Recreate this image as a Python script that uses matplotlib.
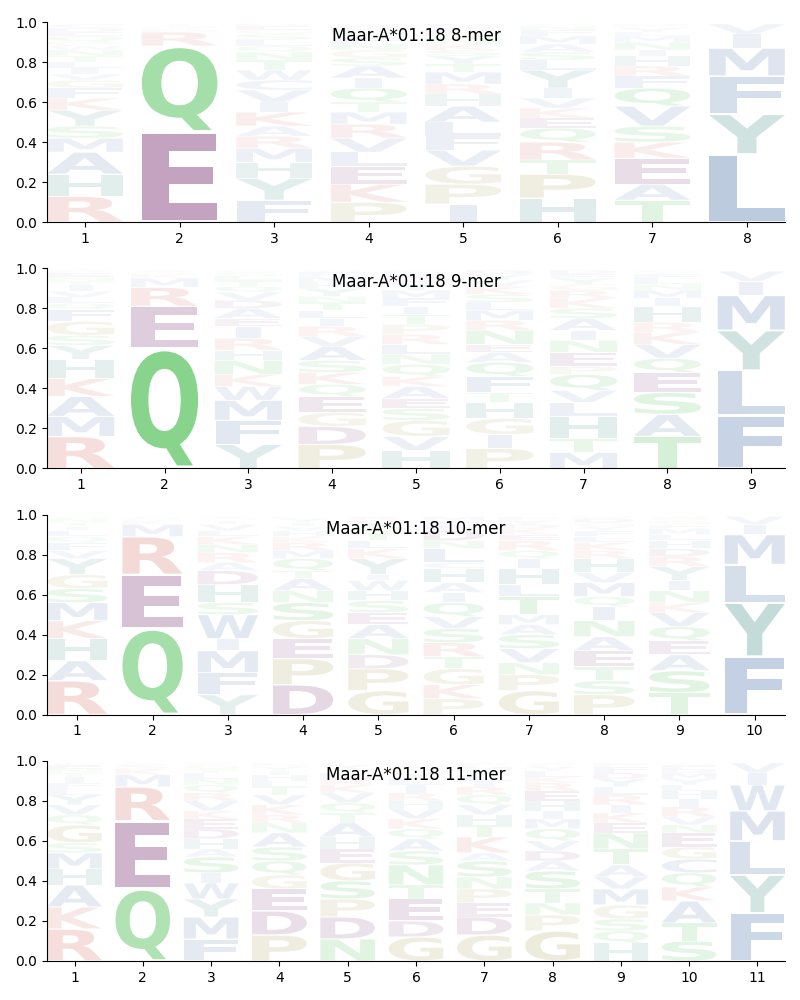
import numpy as np
import matplotlib
matplotlib.use("Agg")
import matplotlib.pyplot as plt
from matplotlib.textpath import TextPath
from matplotlib.patches import PathPatch
from matplotlib.font_manager import FontProperties
import matplotlib.transforms as mtransforms

allele = "Maar-A*01:18"

# letters of each column, bottom -> top, and their heights
letters_8 = ["RHAMSYKFGVILTNWPQEDC", "EQRMKST", "FYHMRAKIVCWTNQLSGED",
             "PKELVRMTQIASGNFYHDW", "IPGVFLAHRMTYSKNQEWD", "HPTRQEKVIYLSAMFNG",
             "TAEKSVQFRHINMLYGD", "LYFMIV"]
heights_8 = [
    [.13, .11, .11, .07, .06, .08, .06, .05, .04, .03, .03, .03, .03, .03, .02, .02, .03, .02, .02, .02],
    [.45, .43, .07, .01, .01, .01, .01],
    [.11, .11, .08, .07, .06, .05, .07, .05, .06, .05, .05, .05, .04, .03, .03, .03, .02, .02, .01],
    [.10, .09, .09, .07, .07, .07, .06, .05, .07, .05, .06, .04, .04, .03, .03, .02, .02, .02, .01],
    [.09, .10, .09, .08, .07, .07, .08, .06, .05, .06, .04, .04, .03, .03, .03, .02, .02, .02, .01],
    [.12, .12, .07, .09, .07, .05, .05, .05, .05, .09, .05, .04, .04, .04, .03, .02, .01],
    [.11, .08, .13, .08, .08, .10, .09, .06, .05, .05, .03, .04, .03, .02, .02, .01, .01],
    [.34, .20, .19, .14, .07, .05],
]

letters_9 = ["RMAKHYSGFQLVITNEPW", "QERMKSA", "YFMWKNHRIEADVQTLSG",
             "PDGEQKSAVRILTNYHMFW", "HVGSEAKQNLRPTIFMYDWC", "PIGHTFQAENRMLSKVYD",
             "MTHLVQPENIASKRGYFD", "TASEQVKRHIMNLFYG", "FLYMIV"]
heights_9 = [
    [.16, .10, .10, .09, .095, .07, .05, .07, .06, .03, .03, .03, .03, .02, .02, .02, .01, .01],
    [.60, .21, .095, .045, .02, .01, .01],
    [.12, .12, .10, .07, .06, .07, .05, .06, .06, .04, .05, .04, .04, .03, .03, .02, .02, .01],
    [.12, .09, .07, .08, .06, .06, .06, .07, .05, .05, .04, .04, .04, .03, .04, .03, .03, .02, .01],
    [.09, .07, .08, .06, .05, .06, .05, .06, .05, .05, .05, .05, .05, .04, .04, .04, .04, .03, .02, .01],
    [.10, .07, .08, .08, .05, .08, .07, .05, .04, .07, .05, .05, .04, .04, .04, .03, .03, .02],
    [.08, .07, .11, .07, .06, .08, .04, .07, .06, .05, .06, .05, .05, .04, .03, .03, .02, .02],
    [.16, .11, .11, .10, .07, .07, .06, .05, .08, .04, .04, .03, .03, .02, .01, .01],
    [.265, .225, .20, .175, .07, .05],
]

letters_10 = ["RAHKMSGYVFQLITNW", "QERMKSA", "YFMIWSHDARNKLVTQE",
              "DPEGSNATQMRKHVIYL", "GPDNAESHWIYKLTQVR", "PKGTRSVQIAHCLNDFEM",
              "GPNVSAMTLHIQREKDYF", "PSTEANIQMVHRKLFYGDW", "TSAEQVKNIYRDHLMFGPW",
              "FYLMIV"]
heights_10 = [
    [.17, .10, .11, .09, .09, .07, .07, .08, .04, .04, .03, .03, .02, .02, .02, .01],
    [.43, .27, .19, .06, .02, .01, .01],
    [.10, .11, .11, .06, .12, .06, .09, .07, .04, .05, .04, .04, .03, .03, .02, .01, .01],
    [.15, .13, .10, .09, .09, .06, .06, .04, .06, .04, .04, .03, .03, .02, .02, .02, .01],
    [.12, .11, .07, .08, .07, .06, .06, .05, .05, .03, .08, .05, .04, .04, .03, .03, .02],
    [.08, .07, .08, .06, .07, .07, .06, .07, .05, .05, .07, .03, .07, .04, .05, .03, .02, .02],
    [.12, .08, .06, .07, .07, .05, .05, .09, .06, .08, .05, .04, .05, .03, .03, .02, .02, .02],
    [.10, .07, .07, .08, .07, .08, .07, .05, .07, .05, .07, .04, .04, .03, .03, .02, .02, .02, .01],
    [.11, .11, .08, .07, .07, .07, .05, .06, .05, .07, .05, .04, .04, .03, .03, .02, .02, .01, .01],
    [.29, .27, .19, .15, .05, .04],
]

letters_11 = ["RKAHMSGQVYLFITNEW", "QERMKSA", "FMYWISAHDEKVRQNLTGP",
              "PDEGQSANRKVTLHIYMF", "NDPSGEHATQVKRLIYF", "GDETNSAQKVHRILYPMF",
              "GDEPNSAKTHVQRILYMFW", "GPNTSADVQMIHERKLYFW", "HQSGMVATNEKIRLYDFP",
              "STAKQCGENVRIHLYMDFW", "FYLMWIV"]
heights_11 = [
    [.16, .11, .11, .08, .08, .05, .09, .05, .05, .05, .03, .03, .03, .02, .02, .02, .01],
    [.36, .34, .17, .06, .03, .02, .01],
    [.11, .11, .09, .08, .05, .08, .04, .05, .05, .05, .04, .05, .04, .04, .03, .03, .02, .02, .01],
    [.13, .12, .11, .07, .07, .07, .07, .05, .04, .05, .05, .04, .03, .03, .02, .02, .01, .01],
    [.11, .11, .09, .09, .09, .07, .06, .07, .05, .05, .05, .04, .03, .03, .02, .02, .01],
    [.12, .08, .11, .07, .10, .07, .06, .05, .05, .05, .04, .04, .04, .03, .03, .03, .01, .01],
    [.13, .09, .07, .07, .06, .08, .04, .08, .06, .05, .05, .05, .04, .03, .03, .02, .02, .01, .01],
    [.15, .08, .06, .07, .09, .05, .05, .05, .06, .05, .04, .05, .05, .04, .03, .03, .02, .01, .01],
    [.09, .06, .06, .07, .08, .06, .06, .08, .08, .05, .05, .04, .05, .04, .04, .03, .03, .02],
    [.10, .09, .11, .07, .07, .07, .06, .07, .04, .04, .05, .04, .04, .03, .03, .03, .02, .02, .01],
    [.24, .19, .17, .15, .13, .06, .05],
]

lengths = [8, 9, 10, 11]
all_letters = [letters_8, letters_9, letters_10, letters_11]
all_heights = [heights_8, heights_9, heights_10, heights_11]

# colour groups
aa_colors = {}
for aa in "RK":
    aa_colors[aa] = "#cc5a50"
for aa in "HY":
    aa_colors[aa] = "#3a8c80"
for aa in "AMFLVIWC":
    aa_colors[aa] = "#466ea8"
for aa in "QNST":
    aa_colors[aa] = "#2db436"
for aa in "ED":
    aa_colors[aa] = "#7a3272"
for aa in "PG":
    aa_colors[aa] = "#a09641"

fp = FontProperties(family="DejaVu Sans", weight="bold")
ref_bb = TextPath((0, 0), "E", size=1, prop=fp).get_extents()


def draw_letter(ax, ch, x, y, w, h, vpad=0.05):
    tp = TextPath((0, 0), ch, size=1, prop=fp)
    bb = tp.get_extents()
    hs = min(w / bb.width, w / ref_bb.width)
    cw = hs * bb.width
    ch_h = h * (1 - vpad)
    vs = ch_h / bb.height
    tr = (mtransforms.Affine2D().translate(-bb.x0, -bb.y0)
          .scale(hs, vs).translate(x - cw / 2, y + h * vpad / 2))
    path = tr.transform_path(tp)
    # faint for rare residues, stronger for frequent ones
    alpha = min(1.0, 0.85 * h ** 0.8)
    ax.add_patch(PathPatch(path, fc=aa_colors[ch], ec="none", alpha=alpha))


fig, axes = plt.subplots(4, 1, figsize=(8, 10), dpi=100)
fig.subplots_adjust(left=0.059, right=0.981, top=0.978, bottom=0.039, hspace=0.23)

for ax, L, letters, heights in zip(axes, lengths, all_letters, all_heights):
    for pos in range(L):
        floor = 0.0
        for aa, h in zip(letters[pos], heights[pos]):
            draw_letter(ax, aa, pos + 1, floor, 0.8, h)
            floor += h
    ax.set_xlim(0.6, L + 0.4)
    ax.set_ylim(0, 1)
    ax.set_xticks(range(1, L + 1))
    ax.set_yticks(np.arange(0, 1.01, 0.2))
    ax.spines["top"].set_visible(False)
    ax.spines["right"].set_visible(False)
    ax.text(0.5, 0.93, f"{allele} {L}-mer", transform=ax.transAxes,
            ha="center", va="center", fontsize=12)

fig.savefig("out.png", dpi=100)
